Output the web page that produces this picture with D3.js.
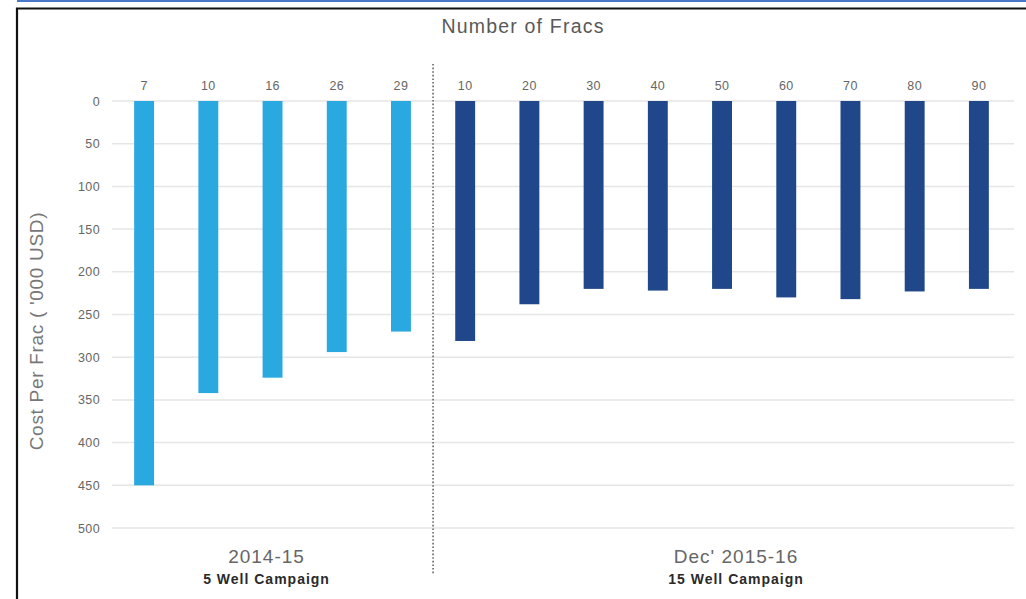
<!DOCTYPE html>
<html>
<head>
<meta charset="utf-8">
<script src="https://cdn.jsdelivr.net/npm/d3@7"></script>
<style>
  html, body { margin: 0; padding: 0; background: #fff; }
  svg { display: block; font-family: "Liberation Sans", Arial, sans-serif; }
</style>
</head>
<body>
<svg id="chart" width="1026" height="599"></svg>
<script>
// Frac counts (category labels) and cost per frac ('000 USD) for each campaign
const fracs2014 = ["7", "10", "16", "26", "29"];
const cost2014 = [450, 342, 324, 294, 270];
const fracs2015 = ["10", "20", "30", "40", "50", "60", "70", "80", "90"];
const cost2015 = [281, 238, 220, 222, 220, 230, 232, 223, 220];
const yTicks = [0, 50, 100, 150, 200, 250, 300, 350, 400, 450, 500];
const campaignPeriods = ["2014-15", "Dec' 2015-16"];
const campaignNames = ["5 Well Campaign", "15 Well Campaign"];

const rows = [
  ...fracs2014.map((f, i) => ({ key: "a" + i, label: f, value: cost2014[i], group: 0 })),
  ...fracs2015.map((f, i) => ({ key: "b" + i, label: f, value: cost2015[i], group: 1 }))
];

const colors = ["#29a9e0", "#1f4789"];
const FONT = "Liberation Sans, Arial, sans-serif";
// horizontal nudge of each campaign caption from its group centre
const captionShift = [-6, 14];

const svg = d3.select("#chart");

// page frame
svg.append("line").attr("x1", 17).attr("x2", 1026).attr("y1", 1).attr("y2", 1)
  .attr("stroke", "#4a78c8").attr("stroke-width", 2);
svg.append("path").attr("d", "M17,599 V8.5 H1026")
  .attr("fill", "none").attr("stroke", "#111").attr("stroke-width", 2.2);

const x = d3.scaleBand().domain(rows.map(d => d.key)).range([112, 1011]).padding(0);
const y = d3.scaleLinear().domain([0, 500]).range([101, 528]);
const barW = x.bandwidth() * 0.31;

// horizontal gridlines
svg.append("g").selectAll("line").data(yTicks).join("line")
  .attr("x1", 112).attr("x2", 1014)
  .attr("y1", d => y(d)).attr("y2", d => y(d))
  .attr("stroke", "#e6e6e6").attr("stroke-width", 1.5);

// y axis tick labels
const yAxis = d3.axisLeft(y).tickValues(yTicks).tickSize(0).tickPadding(0);
const gy = svg.append("g").attr("transform", "translate(100,0)").call(yAxis);
gy.select(".domain").remove();
gy.selectAll("text").attr("font-size", 12.5).attr("letter-spacing", 0.4)
  .attr("fill", "#666").attr("font-family", FONT);

// category (frac count) labels above the bars
const xAxis = d3.axisTop(x).tickSize(0).tickPadding(0).tickFormat(k => rows.find(r => r.key === k).label);
const gx = svg.append("g").attr("transform", "translate(0,90)").call(xAxis);
gx.select(".domain").remove();
gx.selectAll("text").attr("font-size", 12.5).attr("letter-spacing", 0.4)
  .attr("fill", "#666").attr("font-family", FONT);

// bars hanging down from zero
svg.append("g").selectAll("rect").data(rows).join("rect")
  .attr("x", d => x(d.key) + (x.bandwidth() - barW) / 2)
  .attr("width", barW)
  .attr("y", y(0))
  .attr("height", d => y(d.value) - y(0))
  .attr("fill", d => colors[d.group]);

// dotted divider between campaigns
const divX = (x(rows[fracs2014.length - 1].key) + x.bandwidth() + x(rows[fracs2014.length].key)) / 2;
svg.append("line").attr("x1", divX).attr("x2", divX).attr("y1", 64).attr("y2", 574)
  .attr("stroke", "#666").attr("stroke-width", 1.6).attr("stroke-dasharray", "1.6,2");

// title
svg.append("text").attr("x", 523).attr("y", 33).attr("text-anchor", "middle")
  .attr("font-size", 19.5).attr("letter-spacing", 1.2).attr("fill", "#595959")
  .text("Number of Fracs");

// y axis title
svg.append("text").attr("transform", "translate(43,331) rotate(-90)")
  .attr("text-anchor", "middle").attr("font-size", 19).attr("letter-spacing", 0.7)
  .attr("fill", "#777").text("Cost Per Frac ( '000 USD)");

// campaign captions
const groupSizes = [fracs2014.length, fracs2015.length];
let start = 0;
groupSizes.forEach((n, g) => {
  const first = rows[start].key, last = rows[start + n - 1].key;
  const cx = (x(first) + x(last) + x.bandwidth()) / 2 + captionShift[g];
  svg.append("text").attr("x", cx).attr("y", 563).attr("text-anchor", "middle")
    .attr("font-size", 19).attr("letter-spacing", 1).attr("fill", "#666")
    .text(campaignPeriods[g]);
  svg.append("text").attr("x", cx).attr("y", 584).attr("text-anchor", "middle")
    .attr("font-size", 14).attr("letter-spacing", 1).attr("font-weight", "bold")
    .attr("fill", "#2a2a2a").text(campaignNames[g]);
  start += n;
});
</script>
</body>
</html>
